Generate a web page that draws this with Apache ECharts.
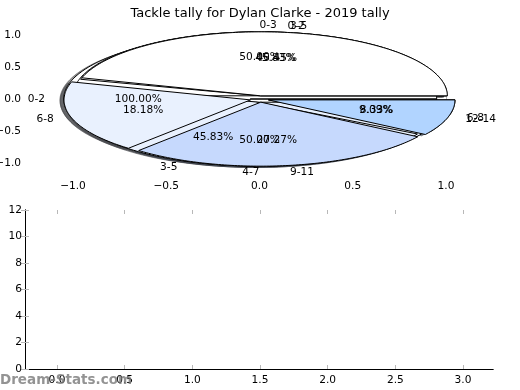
<!DOCTYPE html>
<html>
<head>
<meta charset="utf-8">
<script src="https://cdn.jsdelivr.net/npm/echarts@6/dist/echarts.min.js"></script>
<style>html,body{margin:0;padding:0;background:#fff;}#chart{width:520px;height:390px;}</style>
</head>
<body>
<div id="chart"></div>
<script>
// ---- data: four pies drawn on top of each other (in drawing order) ----
const pie1Labels = ['0-2'];
const pie1Values = [1];
const pie2Labels = ['0-3', '4-7'];
const pie2Values = [1, 1];
const pie3Labels = ['0-2', '3-5', '6-8'];
const pie3Values = [11, 11, 2];
const pie4Labels = ['3-5', '6-8', '9-11', '12-14'];
const pie4Values = [5, 2, 3, 1];

const pieTicks = [-1.0, -0.5, 0.0, 0.5, 1.0];
const barYTicks = [0, 2, 4, 6, 8, 10, 12];
const barXTicks = [0.0, 0.5, 1.0, 1.5, 2.0, 2.5, 3.0];

const titleText = 'Tackle tally for Dylan Clarke - 2019 tally';
const watermark = 'Dream-Stats.com';

// ---- styling ----
const sliceColors = [[255,255,255],[233,241,254],[198,217,253],[177,212,255]];
const EXPLODE = 0.05, LABEL_D = 1.1, PCT_D = 0.6, SHADOW_DX = -0.02, SHADOW_DY = -0.02;
const FONT = '"DejaVu Sans", Verdana, sans-serif';
const FS = 10.6;

const pies = [[pie1Labels, pie1Values], [pie2Labels, pie2Values], [pie3Labels, pie3Values], [pie4Labels, pie4Values]];

function geometry(values) {
  const total = values.reduce((a, b) => a + b, 0);
  let t = 0;
  return values.map(v => {
    const f = v / total;
    const t1 = t * 360, t2 = (t + f) * 360;
    t += f;
    const tm = (t1 + t2) / 2 * Math.PI / 180;
    return { t1, t2, frac: f, cx: EXPLODE * Math.cos(tm), cy: EXPLODE * Math.sin(tm), tm };
  });
}
const geo = pies.map(p => geometry(p[1]));

function wedgePoints(api, s, dx, dy) {
  const pts = [api.coord([s.cx + dx, s.cy + dy])];
  const n = Math.max(2, Math.ceil((s.t2 - s.t1) / 1));
  for (let k = 0; k <= n; k++) {
    const a = (s.t1 + (s.t2 - s.t1) * k / n) * Math.PI / 180;
    pts.push(api.coord([s.cx + dx + Math.cos(a), s.cy + dy + Math.sin(a)]));
  }
  return pts;
}
function rgb(c, k, a) { return 'rgba(' + Math.round(c[0]*k) + ',' + Math.round(c[1]*k) + ',' + Math.round(c[2]*k) + ',' + a + ')'; }

const allItems = [];
pies.forEach((p, pi) => p[1].forEach((v, si) => allItems.push([0, 0, pi, si])));

const series = [];
// shadows (beneath every wedge)
series.push({
  type: 'custom', xAxisIndex: 0, yAxisIndex: 0, z: 1, clip: false, silent: true,
  data: allItems,
  renderItem: function (params, api) {
    const pi = api.value(2), si = api.value(3);
    const s = geo[pi][si];
    const c = sliceColors[si % sliceColors.length];
    return { type: 'polygon', shape: { points: wedgePoints(api, s, SHADOW_DX, SHADOW_DY) },
      style: { fill: rgb(c, 0.3, 0.6), stroke: rgb(c, 0.3, 0.6), lineWidth: 1 } };
  }
});
// wedges, one series per pie in drawing order
pies.forEach((p, pi) => {
  series.push({
    type: 'custom', xAxisIndex: 0, yAxisIndex: 0, z: 2, clip: false, silent: true,
    data: p[1].map((v, si) => [0, 0, pi, si]),
    renderItem: function (params, api) {
      const si = api.value(3);
      const s = geo[pi][si];
      const c = sliceColors[si % sliceColors.length];
      return { type: 'polygon', shape: { points: wedgePoints(api, s, 0, 0) },
        style: { fill: rgb(c, 1, 1), stroke: '#000', lineWidth: 1, lineJoin: 'miter' } };
    }
  });
});
// labels on top
series.push({
  type: 'custom', xAxisIndex: 0, yAxisIndex: 0, z: 3, clip: false, silent: true,
  data: allItems,
  renderItem: function (params, api) {
    const pi = api.value(2), si = api.value(3);
    const s = geo[pi][si];
    const xt = s.cx + LABEL_D * Math.cos(s.tm), yt = s.cy + LABEL_D * Math.sin(s.tm);
    const lp = api.coord([xt, yt]);
    const pp = api.coord([s.cx + PCT_D * Math.cos(s.tm), s.cy + PCT_D * Math.sin(s.tm)]);
    return { type: 'group', children: [
      { type: 'text', x: lp[0], y: lp[1], style: { text: pies[pi][0][si], fill: '#000', fontSize: FS, fontFamily: FONT,
        align: xt > 0 ? 'left' : 'right', verticalAlign: 'middle' } },
      { type: 'text', x: pp[0], y: pp[1], style: { text: (s.frac * 100).toFixed(2) + '%', fill: '#000', fontSize: FS, fontFamily: FONT,
        align: 'center', verticalAlign: 'middle' } }
    ] };
  }
});
// dummy series for the empty lower axes
series.push({ type: 'scatter', xAxisIndex: 2, yAxisIndex: 2, data: [], silent: true });
series.push({ type: 'scatter', xAxisIndex: 4, yAxisIndex: 4, data: [], silent: true });

function fmt(v) { return (v < 0 ? '\u2212' : '') + Math.abs(v).toFixed(1); }
const tickStyle = { show: true, inside: true, length: 4, lineStyle: { color: '#b8b8b8', width: 1 } };
const lblStyle = { fontSize: FS, color: '#000', fontFamily: FONT };

const option = {
  animation: false,
  backgroundColor: '#fff',
  title: { text: titleText, left: 'center', top: 2, textStyle: { fontSize: 13, fontWeight: 'normal', color: '#000', fontFamily: FONT } },
  graphic: [{ type: 'text', left: 0, top: 373, z: 100, style: { text: watermark, fill: 'rgba(120,120,120,0.8)', fontSize: 13.5, fontWeight: 'bold', fontFamily: FONT } }],
  grid: [
    { left: 73, right: 74, top: 35, bottom: 227, containLabel: false, outerBoundsMode: 'none' },
    { left: 25, right: 27, top: 210, bottom: 21, containLabel: false, outerBoundsMode: 'none' },
    { left: 57, right: 57, top: 210, bottom: 21, containLabel: false, outerBoundsMode: 'none' }
  ],
  xAxis: [
    { gridIndex: 0, type: 'value', position: 'bottom', offset: 13, min: pieTicks[0], max: pieTicks[pieTicks.length-1], interval: 0.5,
      axisLine: { show: false }, axisTick: tickStyle, splitLine: { show: false },
      axisLabel: Object.assign({ margin: 5, formatter: fmt }, lblStyle) },
    { gridIndex: 0, type: 'value', position: 'top', offset: 14, min: pieTicks[0], max: pieTicks[pieTicks.length-1], interval: 0.5,
      axisLine: { show: false }, axisTick: tickStyle, splitLine: { show: false }, axisLabel: { show: false } },
    { gridIndex: 1, type: 'value', position: 'bottom', min: 0, max: 1,
      axisLine: { show: true, lineStyle: { color: '#000', width: 1 } }, axisTick: { show: false }, splitLine: { show: false }, axisLabel: { show: false } },
    { gridIndex: 1, type: 'value', position: 'top', min: 0, max: 1,
      axisLine: { show: true, lineStyle: { color: '#000', width: 1 } }, axisTick: { show: false }, splitLine: { show: false }, axisLabel: { show: false } },
    { gridIndex: 2, type: 'value', position: 'bottom', min: barXTicks[0], max: barXTicks[barXTicks.length-1], interval: 0.5,
      axisLine: { show: false }, axisTick: tickStyle, splitLine: { show: false },
      axisLabel: Object.assign({ margin: 6, formatter: fmt }, lblStyle) },
    { gridIndex: 2, type: 'value', position: 'top', min: barXTicks[0], max: barXTicks[barXTicks.length-1], interval: 0.5,
      axisLine: { show: false }, axisTick: tickStyle, splitLine: { show: false }, axisLabel: { show: false } }
  ],
  yAxis: [
    { gridIndex: 0, type: 'value', position: 'left', offset: 46, min: pieTicks[0], max: pieTicks[pieTicks.length-1], interval: 0.5,
      axisLine: { show: false }, axisTick: tickStyle, splitLine: { show: false },
      axisLabel: Object.assign({ margin: 6, formatter: fmt }, lblStyle) },
    { gridIndex: 0, type: 'value', position: 'right', offset: 45, min: pieTicks[0], max: pieTicks[pieTicks.length-1], interval: 0.5,
      axisLine: { show: false }, axisTick: tickStyle, splitLine: { show: false }, axisLabel: { show: false } },
    { gridIndex: 1, type: 'value', position: 'left', min: barYTicks[0], max: barYTicks[barYTicks.length-1], interval: 2,
      axisLine: { show: true, lineStyle: { color: '#000', width: 1 } }, axisTick: tickStyle, splitLine: { show: false },
      axisLabel: Object.assign({ margin: 3 }, lblStyle) },
    { gridIndex: 1, type: 'value', position: 'right', min: barYTicks[0], max: barYTicks[barYTicks.length-1], interval: 2,
      axisLine: { show: true, lineStyle: { color: '#000', width: 1 } }, axisTick: tickStyle, splitLine: { show: false }, axisLabel: { show: false } },
    { gridIndex: 2, type: 'value', show: false, min: 0, max: 12 }
  ],
  series: series
};
const chart = echarts.init(document.getElementById('chart'), null, { renderer: 'canvas' });
chart.setOption(option);
</script>
</body>
</html>
